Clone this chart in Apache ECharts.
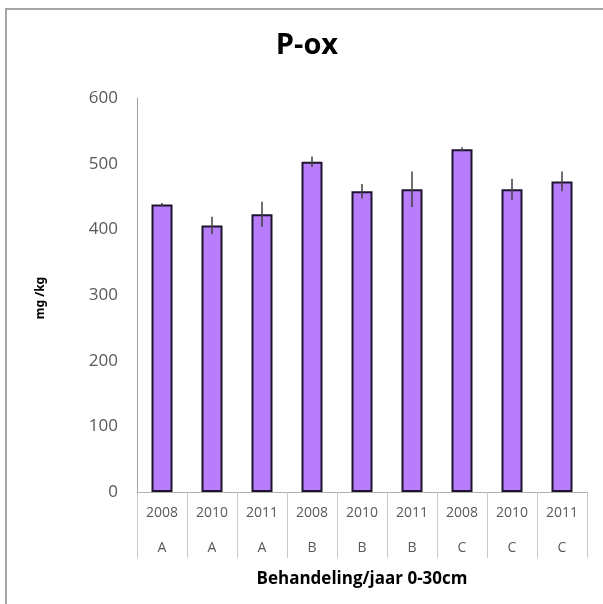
<!DOCTYPE html>
<html>
<head>
<meta charset="utf-8">
<script src="https://cdn.jsdelivr.net/npm/echarts@6/dist/echarts.min.js"></script>
<style>
html,body{margin:0;padding:0;background:#fff;}
#chart{width:603px;height:604px;}
</style>
</head>
<body>
<div id="chart"></div>
<script>
var years = ['2008','2010','2011','2008','2010','2011','2008','2010','2011'];
var groups = ['A','A','A','B','B','B','C','C','C'];
var values = [438, 406, 423, 503, 458, 461, 522, 461, 473];
var errors = [2, 13, 19, 8, 11, 27, 3, 16, 15];
var yTicks = [0, 100, 200, 300, 400, 500, 600];

var categories = years.map(function(y, i){ return y + '|' + groups[i]; });
var font = 'Open Sans';

var chart = echarts.init(document.getElementById('chart'), null, {renderer: 'canvas'});
chart.setOption({
  animation: false,
  backgroundColor: '#ffffff',
  grid: {left: 137, right: 16, top: 98, bottom: 112, containLabel: false},
  graphic: [
    {type: 'rect', shape: {x: 6, y: 9, width: 640, height: 640}, style: {fill: 'none', stroke: '#A6A6A6', lineWidth: 2}, silent: true},
    {type: 'text', style: {x: 307, y: 46, text: 'P-ox', fontFamily: font, fontWeight: 'bold', fontSize: 29, fill: '#000', align: 'center', verticalAlign: 'middle'}},
    {type: 'text', x: 41, y: 298, rotation: Math.PI / 2, style: {x: 0, y: 0, text: 'mg /kg', fontFamily: 'Noto Sans', fontWeight: 'bold', fontSize: 12, fill: '#000', align: 'center', verticalAlign: 'middle'}}
  ],
  xAxis: {
    type: 'category',
    data: categories,
    name: 'Behandeling/jaar 0-30cm',
    nameLocation: 'middle',
    nameGap: 71,
    nameTextStyle: {fontFamily: font, fontWeight: 'bold', fontSize: 17, color: '#000'},
    axisLine: {lineStyle: {color: '#B0B0B0', width: 1}},
    axisTick: {show: true, interval: 0, length: 66, lineStyle: {color: '#C8C8C8', width: 1}},
    axisLabel: {
      interval: 0, margin: 4, color: '#595959', fontFamily: font, fontSize: 14, lineHeight: 35,
      formatter: function(v){ var p = v.split('|'); return p[0] + '\n' + p[1]; }
    }
  },
  yAxis: {
    type: 'value',
    min: yTicks[0], max: yTicks[yTicks.length - 1], interval: 100,
    axisLine: {show: true, lineStyle: {color: '#A0A0A0', width: 1}},
    axisTick: {show: false},
    splitLine: {show: false},
    axisLabel: {color: '#595959', fontFamily: font, fontSize: 17, margin: 19}
  },
  series: [
    {
      type: 'bar',
      data: values,
      barWidth: 21,
      itemStyle: {color: '#B77DFB', borderColor: '#1F1430', borderWidth: 2}
    },
    {
      type: 'custom',
      data: values.map(function(v, i){ return [i, v - errors[i], v + errors[i]]; }),
      encode: {x: 0, y: [1, 2]},
      z: 5,
      renderItem: function(params, api){
        var lo = api.coord([api.value(0), api.value(1)]);
        var hi = api.coord([api.value(0), api.value(2)]);
        return {type: 'line', shape: {x1: lo[0], y1: lo[1], x2: hi[0], y2: hi[1]}, style: {stroke: '#404040', lineWidth: 1.5}};
      }
    }
  ]
});
</script>
</body>
</html>
